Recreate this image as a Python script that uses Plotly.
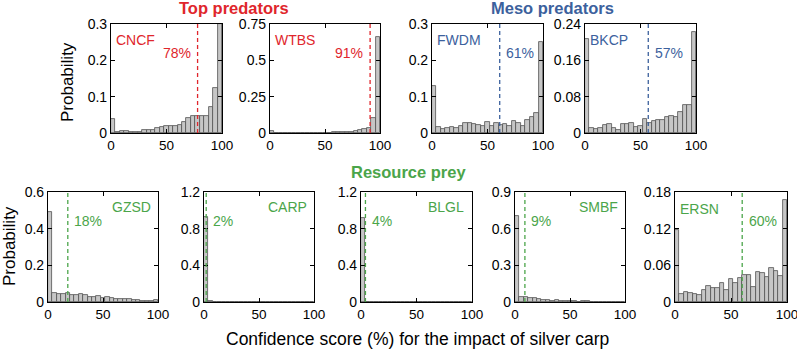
import plotly.graph_objects as go

# ---- data ----
bin_width = 4
bin_centers = [2 + 4 * i for i in range(25)]

CNCF = [0.038, 0.004, 0.005, 0.006, 0.004, 0.003, 0.004, 0.008, 0.009, 0.009, 0.013, 0.016, 0.018,
        0.019, 0.019, 0.022, 0.030, 0.041, 0.048, 0.048, 0.047, 0.047, 0.072, 0.125, 0.300]
WTBS = [0.012, 0.003, 0.002, 0.002, 0.002, 0.002, 0.002, 0.002, 0.002, 0.002, 0.002, 0.002, 0.003,
        0.003, 0.004, 0.004, 0.005, 0.006, 0.008, 0.012, 0.020, 0.030, 0.036, 0.100, 0.660]
FWDM = [0.128, 0.016, 0.012, 0.015, 0.016, 0.014, 0.019, 0.028, 0.027, 0.024, 0.021, 0.019, 0.031,
        0.019, 0.027, 0.022, 0.025, 0.019, 0.032, 0.028, 0.018, 0.036, 0.045, 0.054, 0.250]
BKCP = [0.208, 0.012, 0.009, 0.012, 0.017, 0.020, 0.010, 0.007, 0.020, 0.020, 0.023, 0.014, 0.015,
        0.031, 0.021, 0.026, 0.028, 0.028, 0.036, 0.038, 0.036, 0.046, 0.062, 0.062, 0.223]
GZSD = [0.490, 0.048, 0.044, 0.044, 0.051, 0.040, 0.037, 0.044, 0.037, 0.029, 0.029, 0.033, 0.022,
        0.026, 0.022, 0.018, 0.018, 0.015, 0.015, 0.011, 0.009, 0.007, 0.007, 0.007, 0.013]
CARP = [0.925, 0.012, 0.003, 0.002, 0.001, 0.001, 0.001, 0.001, 0.001, 0.001, 0.001, 0.001, 0.001,
        0.001, 0.001, 0.001, 0.001, 0.001, 0.001, 0.001, 0.001, 0.001, 0.001, 0.001, 0.001]
BLGL = [0.920, 0.004, 0.003, 0.002, 0.002, 0.002, 0.001, 0.001, 0.001, 0.001, 0.001, 0.001, 0.001,
        0.001, 0.001, 0.001, 0.001, 0.001, 0.001, 0.001, 0.001, 0.001, 0.001, 0.001, 0.001]
SMBF = [0.700, 0.045, 0.040, 0.030, 0.030, 0.025, 0.020, 0.015, 0.012, 0.020, 0.010, 0.008, 0.006,
        0.005, 0.004, 0.006, 0.005, 0.004, 0.003, 0.003, 0.003, 0.002, 0.002, 0.002, 0.002]
ERSN = [0.118, 0.013, 0.016, 0.014, 0.013, 0.012, 0.019, 0.026, 0.023, 0.023, 0.031, 0.020, 0.038,
        0.031, 0.039, 0.044, 0.045, 0.024, 0.049, 0.047, 0.041, 0.055, 0.050, 0.042, 0.167]

panels = ["CNCF", "WTBS", "FWDM", "BKCP", "GZSD", "CARP", "BLGL", "SMBF", "ERSN"]
values = [CNCF, WTBS, FWDM, BKCP, GZSD, CARP, BLGL, SMBF, ERSN]
percent = [78, 91, 61, 57, 18, 2, 4, 9, 60]
groups = ["top", "top", "meso", "meso", "prey", "prey", "prey", "prey", "prey"]
ymax = [0.3, 0.75, 0.3, 0.24, 0.6, 1.2, 1.2, 0.9, 0.18]
yticks = [[0, 0.1, 0.2, 0.3], [0, 0.25, 0.5, 0.75], [0, 0.1, 0.2, 0.3], [0, 0.08, 0.16, 0.24],
          [0, 0.2, 0.4, 0.6], [0, 0.4, 0.8, 1.2], [0, 0.4, 0.8, 1.2], [0, 0.3, 0.6, 0.9],
          [0, 0.06, 0.12, 0.18]]
ytick_labels = [["0", "0.1", "0.2", "0.3"], ["0", "0.25", "0.5", "0.75"], ["0", "0.1", "0.2", "0.3"],
                ["0", "0.08", "0.16", "0.24"], ["0", "0.2", "0.4", "0.6"], ["0", "0.4", "0.8", "1.2"],
                ["0", "0.4", "0.8", "1.2"], ["0", "0.3", "0.6", "0.9"], ["0", "0.06", "0.12", "0.18"]]
xticks = [0, 50, 100]
group_titles = {"top": "Top predators", "meso": "Meso predators", "prey": "Resource prey"}
xlabel = "Confidence score (%) for the impact of silver carp"
ylabel = "Probability"

# ---- style ----
colors = {"top": "#e0262c", "meso": "#3c619d", "prey": "#4ba54a"}
W, H = 797, 350
px_x = [(111, 222), (270, 380), (432, 543), (585, 696),
        (48, 158), (204, 314), (361, 472), (515, 625), (675, 787)]
px_y = [(24, 133)] * 4 + [(192, 302)] * 5
name_side = ["left", "left", "left", "left", "right", "right", "right", "right", "left"]
pct_side = ["left", "left", "right", "right", "right", "right", "right", "right", "right"]

font = "Liberation Sans, Arial, sans-serif"
fig = go.Figure()
layout = dict(width=W, height=H, margin=dict(l=0, r=0, t=0, b=0, pad=0, autoexpand=False),
              paper_bgcolor="white", plot_bgcolor="white", showlegend=False,
              font=dict(family=font, color="black", size=14), bargap=0)
annotations = []
shapes = []

for i, name in enumerate(panels):
    n = i + 1
    xa = "xaxis" if n == 1 else f"xaxis{n}"
    ya = "yaxis" if n == 1 else f"yaxis{n}"
    xr = "x" if n == 1 else f"x{n}"
    yr = "y" if n == 1 else f"y{n}"
    c = colors[groups[i]]
    fig.add_trace(go.Bar(x=bin_centers, y=values[i], width=bin_width, xaxis=xr, yaxis=yr,
                         marker=dict(color="#c6c6c6", line=dict(color="#505050", width=0.8))))
    x0, x1 = px_x[i]
    y0, y1 = px_y[i]
    layout[xa] = dict(domain=[x0 / W, x1 / W], range=[0, 100], anchor=yr, automargin=False,
                      tickvals=xticks, ticks="inside", ticklen=4, tickcolor="black",
                      showline=True, linecolor="black", linewidth=1.2, mirror="ticks",
                      showgrid=False, zeroline=False, tickfont=dict(size=13.5),
                      ticklabeloverflow="allow")
    layout[ya] = dict(domain=[1 - y1 / H, 1 - y0 / H], range=[0, ymax[i]], anchor=xr, automargin=False,
                      tickvals=yticks[i], ticktext=ytick_labels[i], ticks="inside", ticklen=4,
                      tickcolor="black", showline=True, linecolor="black", linewidth=1.2,
                      mirror="ticks", showgrid=False, zeroline=False, tickfont=dict(size=14),
                      ticklabeloverflow="allow")
    shapes.append(dict(type="line", xref=xr, yref=f"{yr} domain", x0=percent[i], x1=percent[i],
                       y0=0, y1=1, line=dict(color=c, width=1.3, dash="4px,3px")))
    if name_side[i] == "left":
        annotations.append(dict(x=0.03, y=0.85, xref=f"{xr} domain", yref=f"{yr} domain",
                                text=name, showarrow=False, xanchor="left", yanchor="middle",
                                font=dict(color=c, size=14)))
    else:
        annotations.append(dict(x=0.95, y=0.865, xref=f"{xr} domain", yref=f"{yr} domain",
                                text=name, showarrow=False, xanchor="right", yanchor="middle",
                                font=dict(color=c, size=14)))
    if pct_side[i] == "left":
        annotations.append(dict(x=percent[i] - 4.5, y=0.735, xref=xr, yref=f"{yr} domain",
                                text=f"{percent[i]}%", showarrow=False, xanchor="right",
                                yanchor="middle", font=dict(color=c, size=14)))
    else:
        annotations.append(dict(x=percent[i] + 4, y=0.735, xref=xr, yref=f"{yr} domain",
                                text=f"{percent[i]}%", showarrow=False, xanchor="left",
                                yanchor="middle", font=dict(color=c, size=14)))


def paper_text(x, y, text, color="black", size=17, angle=0):
    return dict(x=x / W, y=1 - y / H, xref="paper", yref="paper", text=text, showarrow=False,
                xanchor="center", yanchor="middle", textangle=angle, font=dict(color=color, size=size))


annotations.append(paper_text(234, 7.5, f"<b>{group_titles['top']}</b>", colors["top"], size=16.5))
annotations.append(paper_text(552, 7.5, f"<b>{group_titles['meso']}</b>", colors["meso"], size=16.5))
annotations.append(paper_text(408, 172, f"<b>{group_titles['prey']}</b>", colors["prey"], size=16.5))
annotations.append(paper_text(417, 339, xlabel, size=17.5))
annotations.append(paper_text(67, 82, ylabel, angle=-90))
annotations.append(paper_text(9, 246, ylabel, angle=-90))

layout["annotations"] = annotations
layout["shapes"] = shapes
fig.update_layout(**layout)
fig.write_html("out.html", config={"displayModeBar": False},
               post_script="document.body.style.margin='0';document.body.style.overflow='hidden';")
